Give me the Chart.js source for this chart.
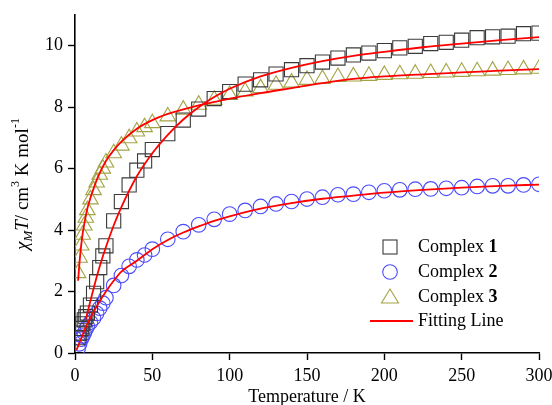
<!DOCTYPE html>
<html>
<head>
<meta charset="utf-8">
<script src="https://cdn.jsdelivr.net/npm/chart.js@4/dist/chart.umd.min.js"></script>
<style>
html,body{margin:0;padding:0;background:#fff;}
#wrap{width:552px;height:405px;position:relative;}
</style>
</head>
<body>
<div id="wrap"><canvas id="c" width="552" height="405"></canvas></div>
<script>
// ---- data ----
const temps = [2,3,4,5,6,7,8,10,12,14,16,18,20,25,30,35,40,45,50,60,70,80,90,100,110,120,130,140,150,160,170,180,190,200,210,220,230,240,250,260,270,280,290,300];
const complex1 = [0.50,0.65,0.80,0.95,1.08,1.18,1.30,1.56,1.94,2.32,2.78,3.16,3.49,4.30,4.93,5.47,5.95,6.25,6.62,7.14,7.58,7.94,8.28,8.51,8.75,8.89,9.08,9.22,9.35,9.47,9.60,9.70,9.76,9.84,9.93,9.98,10.07,10.11,10.18,10.26,10.29,10.31,10.39,10.41];
const complex2 = [0.15,0.30,0.45,0.55,0.65,0.77,0.87,1.00,1.13,1.29,1.46,1.62,1.80,2.20,2.52,2.82,3.03,3.19,3.38,3.70,3.95,4.17,4.35,4.52,4.64,4.77,4.85,4.93,5.01,5.07,5.15,5.17,5.23,5.28,5.31,5.33,5.34,5.36,5.38,5.42,5.44,5.44,5.47,5.49];
const complex3 = [2.60,3.10,3.50,3.85,4.15,4.40,4.65,5.00,5.30,5.55,5.80,6.00,6.20,6.50,6.75,6.99,7.21,7.35,7.48,7.70,7.92,8.08,8.24,8.40,8.51,8.62,8.73,8.80,8.89,8.92,8.98,9.00,9.02,9.05,9.07,9.09,9.11,9.13,9.15,9.17,9.19,9.21,9.23,9.25];

const fit1T = [7,10,15,20,25,30,40,50,60,70,80,90,100,120,140,160,180,200,225,250,275,300];
const fit1V = [1.10,1.70,2.65,3.45,4.15,4.75,5.75,6.50,7.10,7.60,8.00,8.33,8.60,9.00,9.28,9.50,9.67,9.80,9.95,10.07,10.18,10.28];
const fit2T = [1,3,5,7,10,15,20,25,30,40,50,60,70,80,90,100,120,140,160,180,200,225,250,275,300];
const fit2V = [0.10,0.35,0.60,0.85,1.15,1.60,2.00,2.35,2.65,3.00,3.38,3.68,3.92,4.12,4.30,4.45,4.70,4.88,5.02,5.12,5.22,5.31,5.38,5.44,5.48];
const fit3T = [2,3,4,5,6,8,10,12,15,20,25,30,40,50,60,70,80,90,100,120,140,160,180,200,225,250,275,300];
const fit3V = [2.35,3.00,3.50,3.90,4.20,4.70,5.05,5.35,5.75,6.25,6.60,6.88,7.30,7.58,7.78,7.93,8.06,8.17,8.28,8.46,8.62,8.78,8.92,9.00,9.07,9.13,9.19,9.24];

const xTicks = [0,50,100,150,200,250,300];
const yTicks = [0,2,4,6,8,10];
const legendLabels = ['Complex ','Complex ','Complex ','Fitting Line'];
const legendNums = ['1','2','3',''];
const xTitle = 'Temperature / K';

const pts = (xs, ys) => xs.map((x, i) => ({x: x, y: ys[i]}));

const C1 = '#3a3a3a', C2 = '#4b4bff', C3 = '#a3a345', CF = '#ff0000';
const SERIF = '"Liberation Serif", "Times New Roman", serif';

const markerDS = (data, style, color, r) => ({
  type: 'scatter', data: data, showLine: false, pointStyle: style,
  pointRadius: r, pointHoverRadius: r, pointBorderColor: color, pointBackgroundColor: 'rgba(0,0,0,0)',
  pointBorderWidth: 1.1, borderColor: color, backgroundColor: 'rgba(0,0,0,0)', order: 2
});
const fitDS = (data) => ({
  type: 'line', data: data, showLine: true, pointRadius: 0, borderColor: CF, borderWidth: 1.8,
  tension: 0.4, cubicInterpolationMode: 'monotone', fill: false, order: 0
});

// Y-axis title and legend drawn as canvas text
const extras = {
  id: 'extras',
  afterDraw(chart) {
    const ctx = chart.ctx;
    ctx.save();
    // y title
    ctx.translate(28, 184);
    ctx.rotate(-Math.PI / 2);
    ctx.fillStyle = '#000';
    ctx.textBaseline = 'alphabetic';
    const big = '19px ' + SERIF, bigI = 'italic 19px ' + SERIF, small = '12px ' + SERIF, smallI = 'italic 13px ' + SERIF;
    const parts = [
      {t: '\u03C7', f: bigI, dy: 0},
      {t: 'M', f: smallI, dy: 4},
      {t: 'T', f: bigI, dy: 0},
      {t: '/ cm', f: big, dy: 0},
      {t: '3', f: small, dy: -9},
      {t: ' K mol', f: big, dy: 0},
      {t: '-1', f: small, dy: -9}
    ];
    let total = 0;
    parts.forEach(p => { ctx.font = p.f; p.w = ctx.measureText(p.t).width; total += p.w; });
    let x = -total / 2;
    parts.forEach(p => { ctx.font = p.f; ctx.fillText(p.t, x, p.dy); x += p.w; });
    ctx.restore();

    // legend
    ctx.save();
    const rows = [247, 272, 297, 321];
    const mx = 390;
    ctx.lineWidth = 1.1;
    ctx.strokeStyle = C1; ctx.strokeRect(mx - 7, rows[0] - 7, 14, 14);
    ctx.strokeStyle = C2; ctx.beginPath(); ctx.arc(mx, rows[1], 7.3, 0, Math.PI * 2); ctx.stroke();
    ctx.strokeStyle = C3; ctx.beginPath();
    ctx.moveTo(mx, rows[2] - 8); ctx.lineTo(mx + 8.5, rows[2] + 6); ctx.lineTo(mx - 8.5, rows[2] + 6); ctx.closePath(); ctx.stroke();
    ctx.strokeStyle = CF; ctx.lineWidth = 1.8; ctx.beginPath(); ctx.moveTo(370, rows[3]); ctx.lineTo(413, rows[3]); ctx.stroke();
    ctx.fillStyle = '#000'; ctx.textBaseline = 'middle';
    for (let i = 0; i < 4; i++) {
      ctx.font = '18px ' + SERIF;
      ctx.fillText(legendLabels[i], 418, rows[i]);
      const w = ctx.measureText(legendLabels[i]).width;
      if (legendNums[i]) { ctx.font = 'bold 18px ' + SERIF; ctx.fillText(legendNums[i], 418 + w, rows[i]); }
    }
    ctx.restore();
  }
};

new Chart(document.getElementById('c'), {
  data: {
    datasets: [
      markerDS(pts(temps, complex1), 'rect', C1, 10),
      markerDS(pts(temps, complex2), 'circle', C2, 7.3),
      markerDS(pts(temps, complex3), 'triangle', C3, 9),
      fitDS(pts(fit1T, fit1V)),
      fitDS(pts(fit2T, fit2V)),
      fitDS(pts(fit3T, fit3V))
    ]
  },
  options: {
    responsive: false, animation: false, devicePixelRatio: 1,
    layout: {padding: {left: 0, right: 13, top: 15, bottom: 0}},
    plugins: {legend: {display: false}, tooltip: {enabled: false}},
    scales: {
      x: {
        type: 'linear', min: 0, max: 300,
        afterBuildTicks: s => { s.ticks = xTicks.map(v => ({value: v})); },
        afterFit: s => { s.height = 52; s.paddingLeft = 0; s.paddingRight = 0; },
        border: {display: true, color: '#000', width: 1.6},
        grid: {display: true, drawOnChartArea: false, drawTicks: true, tickLength: 7, color: '#000', tickWidth: 1.4},
        ticks: {color: '#000', font: {family: SERIF, size: 18}, padding: 5, maxRotation: 0, autoSkip: false},
        title: {display: true, text: xTitle, color: '#000', font: {family: SERIF, size: 18}, padding: {top: 0, bottom: -3}}
      },
      y: {
        type: 'linear', min: 0, max: 11,
        afterBuildTicks: s => { s.ticks = yTicks.map(v => ({value: v})); },
        afterFit: s => { s.width = 75; s.paddingTop = 0; s.paddingBottom = 0; },
        border: {display: true, color: '#000', width: 1.6},
        grid: {display: true, drawOnChartArea: false, drawTicks: true, tickLength: 7, color: '#000', tickWidth: 1.4},
        ticks: {color: '#000', font: {family: SERIF, size: 18}, padding: 5}
      }
    }
  },
  plugins: [extras]
});
</script>
</body>
</html>
